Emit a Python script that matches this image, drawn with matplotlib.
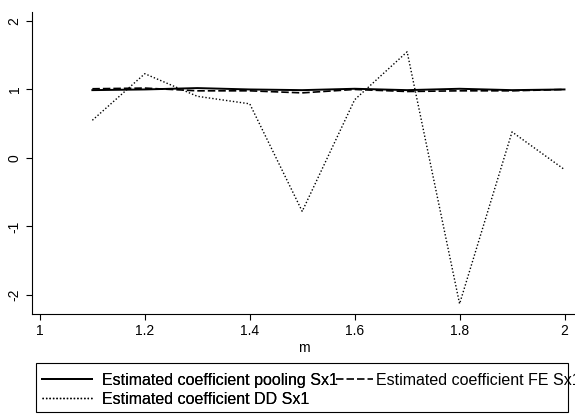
import matplotlib
matplotlib.use("Agg")
import matplotlib.pyplot as plt
from matplotlib.patches import Rectangle

plt.rcParams["font.family"] = ["Liberation Sans", "DejaVu Sans"]

m = [1.1, 1.2, 1.3, 1.4, 1.5, 1.6, 1.7, 1.8, 1.9, 2.0]
coef_pooling = [0.99, 1.00, 1.02, 1.00, 0.99, 1.01, 0.99, 1.01, 0.99, 1.00]
coef_fe = [1.01, 1.02, 0.98, 0.98, 0.95, 1.00, 0.97, 0.98, 0.98, 1.00]
coef_dd = [0.55, 1.23, 0.90, 0.79, -0.78, 0.85, 1.55, -2.13, 0.38, -0.17]

x_ticks = [1, 1.2, 1.4, 1.6, 1.8, 2]
x_labels = ["1", "1.2", "1.4", "1.6", "1.8", "2"]
y_ticks = [-2, -1, 0, 1, 2]
y_labels = ["-2", "-1", "0", "1", "2"]

fig = plt.figure(figsize=(5.75, 4.16), dpi=100)
ax = fig.add_axes([0.0557, 0.245, 0.9443, 0.726])

ln_pool, = ax.plot(m, coef_pooling, color="black", lw=1.4, label="Estimated coefficient pooling Sx1")
ln_fe, = ax.plot(m, coef_fe, color="black", lw=1.2, linestyle=(0, (4.5, 1.8)), label="Estimated coefficient FE Sx1")
ln_dd, = ax.plot(m, coef_dd, color="black", lw=1.0, linestyle=(0, (1, 1.5)), label="Estimated coefficient DD Sx1")

ax.set_xlim(0.985, 2.02)
ax.set_ylim(-2.28, 2.13)
ax.set_xticks(x_ticks)
ax.set_xticklabels(x_labels)
ax.set_yticks(y_ticks)
ax.set_yticklabels(y_labels, rotation=90, va="center")
ax.tick_params(labelsize=10, length=4, width=0.8, color="black")
ax.set_xlabel("m", fontsize=10, labelpad=2)

for s in ["top", "right"]:
    ax.spines[s].set_visible(False)
for s in ["left", "bottom"]:
    ax.spines[s].set_linewidth(0.8)

# legend: left column (pooling, DD) and the FE entry squeezed in after it, like Stata does
leg1 = fig.legend([ln_pool, ln_dd], [ln_pool.get_label(), ln_dd.get_label()],
                  frameon=False, fontsize=11.5, loc="center left",
                  bbox_to_anchor=(0.073, 0.0625), borderpad=0, borderaxespad=0,
                  handlelength=3.13, handletextpad=0.63, labelspacing=0.25)
leg2 = fig.legend([ln_fe], [ln_fe.get_label()],
                  frameon=False, fontsize=11.5, loc="center left",
                  bbox_to_anchor=(0.584, 0.0865), borderpad=0, borderaxespad=0,
                  handlelength=2.3, handletextpad=0.19)
fig.add_artist(leg1)

fig.add_artist(Rectangle((0.0626, 0.0096), 0.925, 0.1178, transform=fig.transFigure,
                         fill=False, edgecolor="black", lw=0.8))

fig.savefig("out.png", dpi=100)
